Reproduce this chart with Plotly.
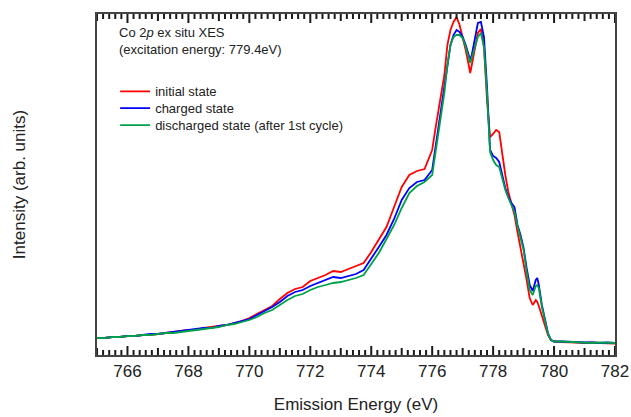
import plotly.graph_objects as go

# Emission energy grid (eV)
energy = [
    765.0, 765.25, 765.5, 765.75, 766.0, 766.25, 766.5, 766.75, 767.0, 767.25,
    767.5, 767.75, 768.0, 768.25, 768.5, 768.75, 769.0, 769.25, 769.5, 769.75,
    770.0, 770.25, 770.5, 770.75, 771.0, 771.25, 771.5, 771.75, 772.0, 772.25,
    772.5, 772.75, 773.0, 773.25, 773.5, 773.75, 774.0,
    774.25, 774.5, 774.75, 775.0, 775.25, 775.5, 775.75,
    776.0, 776.1, 776.2, 776.3, 776.4, 776.5, 776.6, 776.7, 776.8, 776.9,
    777.0, 777.1, 777.2, 777.25, 777.3, 777.4, 777.5, 777.6, 777.7, 777.8,
    777.9, 778.0, 778.1, 778.2, 778.3, 778.4, 778.5, 778.6, 778.7, 778.8,
    778.9, 779.0, 779.1, 779.2, 779.3, 779.4, 779.45, 779.5, 779.6, 779.7,
    779.8, 779.9, 780.0,
    780.25, 780.5, 780.75, 781.0, 781.25, 781.5, 781.75, 782.0,
]

# Co 2p XES intensities (arb. units)
initial_state = [
    17, 17, 18, 18, 19, 19, 20, 20, 21, 22,
    23, 24, 25, 25, 27, 28, 29, 30, 32, 34,
    37, 41, 45, 49, 56, 62, 66, 68, 74, 77,
    80, 84, 83, 86, 89, 92, 103,
    115, 128, 148, 168, 180, 184, 186,
    205, 225, 245, 262, 280, 310, 325, 333, 338, 330,
    318, 305, 290, 282, 290, 305, 322, 326, 308, 255,
    218, 221, 225, 223, 200, 180, 163, 152, 140, 123,
    107, 93, 75, 57, 50, 55, 53, 49, 39, 29,
    20, 15, 13.5,
    13, 13, 12.5, 12, 12.5, 12, 12, 11.5,
]

charged_state = [
    17, 17, 18, 18, 19, 19, 20, 21, 21, 22,
    23, 24, 25, 26, 27, 27, 29, 30, 32, 34,
    36, 40, 44, 48, 53, 59, 63, 65, 69, 72,
    75, 78, 77, 79, 81, 85, 96,
    108, 120, 136, 155, 167, 173, 175,
    185, 205, 225, 245, 265, 290, 310, 320, 325, 323,
    318, 310, 298, 295, 300, 315, 332, 333, 318, 268,
    205, 199, 197, 193, 180, 167, 158, 152, 148, 130,
    120, 107, 87, 70, 64, 75, 77, 70, 50, 35,
    22, 15, 13.5,
    13.5, 13, 13, 12.5, 12.5, 12, 12.5, 12,
]

discharged_state = [
    17, 17, 18, 18, 19, 19, 20, 20, 21, 22,
    22, 23, 24, 25, 26, 27, 28, 30, 31, 33,
    35, 38, 42, 45, 50, 55, 59, 61, 65, 68,
    70, 72, 73, 75, 77, 80, 91,
    102, 116, 130, 147, 162, 169, 173,
    180, 200, 220, 240, 262, 290, 310, 318, 320, 320,
    317, 308, 296, 292, 297, 308, 318, 322, 308, 262,
    203, 195, 190, 188, 175, 165, 157, 150, 143, 129,
    117, 105, 83, 65, 60, 69, 70, 67, 48, 33,
    21, 15, 13.5,
    13.5, 13, 12.5, 12.5, 12, 12.5, 12, 12,
]

series_names = ["initial state", "charged state", "discharged state (after 1st cycle)"]
series_colors = ["#ff0000", "#0000ff", "#00a04a"]
series_values = [initial_state, charged_state, discharged_state]
legend_ids = ["legend", "legend2", "legend3"]

# axis ticks: labels every 2 eV, marks every 1 eV, minor marks every 0.2 eV
tick_values = list(range(766, 783, 2))
tick_labels = [str(v) for v in tick_values]

FONT = "Arial, Liberation Sans, sans-serif"
TEXT = "#222222"
AXIS = "#444444"
X_MIN, X_MAX = 765, 782
PLOT_H = 341  # plot-area height in px, used to size the tick marks

fig = go.Figure()
for name, color, values, lg in zip(series_names, series_colors, series_values, legend_ids):
    fig.add_trace(go.Scatter(
        x=energy, y=values, mode="lines", name=name, legend=lg,
        line=dict(color=color, width=1.8),
    ))

# inward tick marks on the bottom and top frame edges
tick_shapes = []
n_minor = int(round((X_MAX - X_MIN) / 0.2))
for i in range(n_minor + 1):
    xv = round(X_MIN + 0.2 * i, 1)
    if abs(xv - round(xv)) < 1e-6:
        length = 9 if int(round(xv)) % 2 == 0 else 7
    else:
        length = 5
    frac = length / PLOT_H
    for y0, y1 in ((0, frac), (1 - frac, 1)):
        tick_shapes.append(dict(
            type="line", xref="x", yref="paper", x0=xv, x1=xv, y0=y0, y1=y1,
            line=dict(color="#1a1a1a", width=2), layer="above",
        ))

legend_style = dict(
    xanchor="left", yanchor="middle", bgcolor="rgba(0,0,0,0)", borderwidth=0,
    font=dict(size=13, family=FONT, color=TEXT), itemwidth=30,
)
legend_rows = [0.773, 0.724, 0.674]

fig.update_layout(
    width=631, height=417,
    margin=dict(l=97, r=16, t=14, b=62),
    paper_bgcolor="white", plot_bgcolor="white",
    font=dict(family=FONT, color=TEXT),
    xaxis=dict(
        range=[X_MIN, X_MAX], tickmode="array", tickvals=tick_values, ticktext=tick_labels,
        ticks="",
        showline=True, linecolor=AXIS, linewidth=1.5, mirror=True,
        showgrid=False, zeroline=False, automargin=False,
        tickfont=dict(size=17, family=FONT, color=TEXT),
        title=dict(text="Emission Energy (eV)", font=dict(size=17, family=FONT, color=TEXT),
                   standoff=18),
    ),
    yaxis=dict(
        range=[0, 341], showticklabels=False, ticks="",
        showline=True, linecolor=AXIS, linewidth=1.5, mirror=True,
        showgrid=False, zeroline=False, automargin=False,
        title=dict(text="Intensity (arb. units)", font=dict(size=17, family=FONT, color=TEXT),
                   standoff=65),
    ),
    legend=dict(x=0.035, y=legend_rows[0], **legend_style),
    legend2=dict(x=0.035, y=legend_rows[1], **legend_style),
    legend3=dict(x=0.035, y=legend_rows[2], **legend_style),
    showlegend=True,
    shapes=tick_shapes,
    annotations=[dict(
        x=0.038, y=0.975, xref="paper", yref="paper", xanchor="left", yanchor="top",
        align="left", showarrow=False,
        text="Co 2<i>p</i> ex situ XES<br>(excitation energy: 779.4eV)",
        font=dict(size=13, family=FONT, color=TEXT),
    )],
)

fig.write_html("out.html")
